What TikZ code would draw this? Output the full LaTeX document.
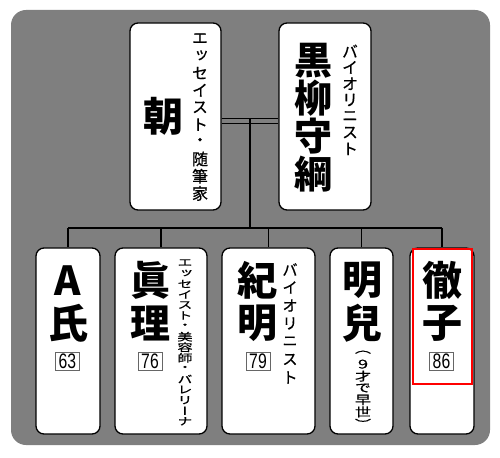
\documentclass[tikz,border=0pt]{standalone}
\usepackage{fontspec}
\usepackage{graphicx}
\usetikzlibrary{calc}
\newfontfamily\jp{Noto Sans CJK JP}
\newfontfamily\jpv[RawFeature=+vert, FakeBold=0.7]{Noto Sans CJK JP}
\newfontfamily\numf{Liberation Sans}
\makeatletter
\newdimen\vtpitch
\def\vt@end{\vt@end}
\newcommand\vtstack[2]{\vtpitch=#1\relax\vbox{\offinterlineskip\vt@loop#2\vt@end}}
\def\vt@loop#1{\ifx\vt@end#1\else\vbox to\vtpitch{\vss\hbox to 1em{\hss#1\hss}\vss}\expandafter\vt@loop\fi}
\makeatother
\definecolor{panelgray}{HTML}{7F7F7F}
\tikzset{
  pbox/.style={draw=black, fill=white, line width=1.3bp, rounded corners=8bp, inner sep=0pt},
  bigname/.style={inner sep=0pt, font=\jp\bfseries\fontsize{40bp}{40bp}\selectfont},
  smalltxt/.style={inner sep=0pt, font=\jpv\fontsize{16bp}{16bp}\selectfont},
  agebox/.style={draw=black!60, line width=0.6bp, fill=white, minimum width=24bp, minimum height=18bp, inner sep=0pt, font=\numf\fontsize{21bp}{21bp}\selectfont},
  link/.style={draw=black, line width=1.8bp},
}
\begin{document}
\begin{tikzpicture}[x=1bp, y=-1bp]
\useasboundingbox (0,0) rectangle (500,458);
\fill[panelgray, rounded corners=15bp] (11,10) rectangle (490,445);

% parents
\node[pbox, minimum width=91bp, minimum height=187bp] (asabox) at (175.5,116.5) {};
\node[pbox, minimum width=92bp, minimum height=187bp] (kurobox) at (325,116.5) {};
\node[smalltxt] (asajob) at (200,116) {\vtstack{17.2bp}{エッセイスト・随筆家}};
\node[bigname] (asa) at (163,116.5) {朝};
\node[bigname, font=\jp\bfseries\fontsize{38bp}{38bp}\selectfont] (kuro) at (313,117.5) {\vtstack{38bp}{黒柳守綱}};
\node[smalltxt] (kurojob) at (350,100) {\vtstack{16.3bp}{バイオリニスト}};

% children boxes
\node[pbox, minimum width=64bp, minimum height=186bp] (c1) at (68,341) {};
\node[pbox, minimum width=92bp, minimum height=186bp] (c2) at (161,341) {};
\node[pbox, minimum width=93bp, minimum height=186bp] (c3) at (268.5,341) {};
\node[pbox, minimum width=63bp, minimum height=186bp] (c4) at (361.5,341) {};
\node[pbox, minimum width=64bp, minimum height=186bp] (c5) at (442,341) {};

% connectors
\coordinate (bar) at (250,228);
\draw[link] ([yshift=-7bp]asabox.east) -- ([yshift=-7bp]kurobox.west);
\draw[link] ([yshift=-2bp]asabox.east) -- ([yshift=-2bp]kurobox.west);
\coordinate (marr) at ($(asabox.east)!0.5!(kurobox.west)$);
\draw[link] ([yshift=-2bp]marr) -- (bar);
\draw[link] (c1.north |- bar) -- (c5.north |- bar);
\foreach \c in {c1,c2,c3,c4,c5}{\draw[link] (\c.north |- bar) -- (\c.north);}

% names
\node[bigname] (n1) at (68,302) {\vtstack{43bp}{A氏}};
\node[bigname] (n2) at (150,302) {\vtstack{43bp}{眞理}};
\node[bigname] (n3) at (257,302) {\vtstack{43bp}{紀明}};
\node[bigname] (n4) at (362,302) {\vtstack{43bp}{明兒}};
\node[bigname] (n5) at (442,302) {\vtstack{43bp}{徹子}};

% ages
\node[agebox] (a1) at (67.5,361) {\scalebox{0.75}[1]{63}};
\node[agebox] (a2) at (150,361) {\scalebox{0.75}[1]{76}};
\node[agebox] (a3) at (258,361) {\scalebox{0.75}[1]{79}};
\node[agebox] (a5) at (441.5,361) {\scalebox{0.75}[1]{86}};

% occupations
\node[smalltxt, font=\jpv\fontsize{15bp}{15bp}\selectfont] (j2) at (185,342) {\scalebox{1}[0.7]{\vtstack{15.1bp}{エッセイスト・美容師・バレリーナ}}};
\node[smalltxt, font=\jpv\fontsize{15.5bp}{15.5bp}\selectfont] (j3) at (290,323.5) {\vtstack{18bp}{バイオリニスト}};
\node[smalltxt] (j4) at (363,388) {\scalebox{1}[0.745]{\vtstack{16bp}{（９才で早世）}}};

% highlight
\draw[red, line width=2.6bp] (413,249) rectangle (472,384);
\end{tikzpicture}
\end{document}
